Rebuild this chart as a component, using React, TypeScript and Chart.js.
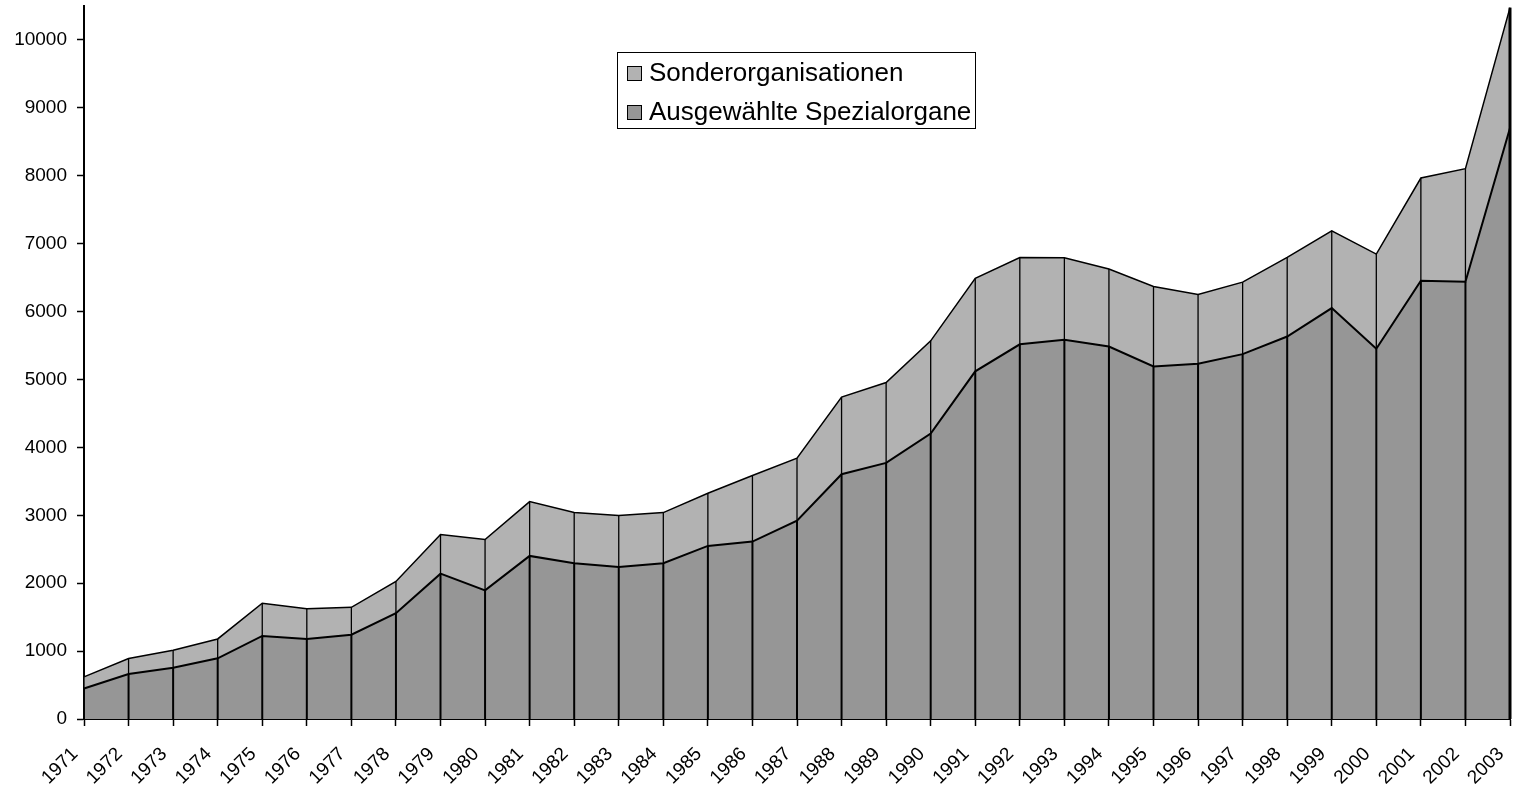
import React, { useEffect, useRef } from 'react';
import { Chart, registerables } from 'chart.js';

Chart.register(...registerables);

const years = [
  '1971', '1972', '1973', '1974', '1975', '1976', '1977', '1978', '1979', '1980',
  '1981', '1982', '1983', '1984', '1985', '1986', '1987', '1988', '1989', '1990',
  '1991', '1992', '1993', '1994', '1995', '1996', '1997', '1998', '1999', '2000',
  '2001', '2002', '2003',
];

// Ausgewählte Spezialorgane (lower, dark series)
const spezialorgane = [
  450, 663, 756, 894, 1223, 1179, 1242, 1557, 2140, 1895,
  2402, 2294, 2240, 2294, 2549, 2613, 2922, 3605, 3772, 4205,
  5120, 5518, 5584, 5486, 5191, 5231, 5373, 5633, 6051, 5452,
  6454, 6439, 8703,
];

// Sonderorganisationen (upper, light series, stacked on top)
const sonderorganisationen = [
  170, 227, 256, 285, 482, 446, 403, 469, 576, 748,
  800, 746, 756, 746, 776, 972, 919, 1135, 1183, 1364,
  1368, 1277, 1208, 1140, 1179, 1021, 1061, 1164, 1139, 1395,
  1513, 1665, 1773,
];

const yTickValues = [0, 1000, 2000, 3000, 4000, 5000, 6000, 7000, 8000, 9000, 10000];
const yMax = 10500;

const legendLabels = ['Sonderorganisationen', 'Ausgewählte Spezialorgane'];

const LIGHT = '#b2b2b2';
const DARK = '#969696';
const FONT = '"Liberation Sans", Arial, sans-serif';

const dropLinesPlugin = {
  id: 'dropLines',
  afterDatasetsDraw(chart: any) {
    const ctx = chart.ctx;
    const lower = chart.getDatasetMeta(0).data;
    const upper = chart.getDatasetMeta(1).data;
    const base = chart.scales.y.getPixelForValue(0);
    ctx.save();
    ctx.strokeStyle = '#000';
    lower.forEach((p: any, i: number) => {
      const q = upper[i];
      ctx.lineWidth = i === lower.length - 1 ? 3 : 2;
      ctx.beginPath();
      ctx.moveTo(p.x, base);
      ctx.lineTo(p.x, p.y);
      ctx.stroke();
      ctx.lineWidth = i === lower.length - 1 ? 3 : 1.3;
      ctx.beginPath();
      ctx.moveTo(q.x, p.y);
      ctx.lineTo(q.x, q.y);
      ctx.stroke();
    });
    ctx.restore();
  },
};

const boxLegendPlugin = {
  id: 'boxLegend',
  afterDraw(chart: any) {
    const ctx = chart.ctx;
    const area = chart.chartArea;
    const left = area.left + 533;
    const top = area.top + 46;
    const w = 358;
    const h = 76;
    ctx.save();
    ctx.fillStyle = '#fff';
    ctx.fillRect(left, top, w, h);
    ctx.strokeStyle = '#000';
    ctx.lineWidth = 1;
    ctx.strokeRect(left + 0.5, top + 0.5, w, h);
    const colors = [LIGHT, DARK];
    const rowsY = [top + 21, top + 60];
    ctx.font = `26px ${FONT}`;
    ctx.textBaseline = 'middle';
    legendLabels.forEach((label, i) => {
      const cy = rowsY[i];
      ctx.fillStyle = colors[i];
      ctx.fillRect(left + 10, cy - 7, 14, 14);
      ctx.strokeStyle = '#000';
      ctx.lineWidth = 1;
      ctx.strokeRect(left + 10.5, cy - 6.5, 14, 14);
      ctx.fillStyle = '#000';
      ctx.fillText(label, left + 32, cy + 1);
    });
    ctx.restore();
  },
};

function zeroPadding(scale: any) {
  scale.paddingTop = 0;
  scale.paddingBottom = 0;
  scale.paddingLeft = 0;
  scale.paddingRight = 0;
}

export default function App() {
  const canvasRef = useRef<HTMLCanvasElement | null>(null);

  useEffect(() => {
    if (!canvasRef.current) return;
    const chart = new Chart(canvasRef.current, {
      type: 'line',
      data: {
        labels: years,
        datasets: [
          {
            label: legendLabels[1],
            data: spezialorgane,
            backgroundColor: DARK,
            borderColor: '#000',
            borderWidth: 2,
            fill: 'origin',
            pointRadius: 0,
            tension: 0,
          },
          {
            label: legendLabels[0],
            data: sonderorganisationen,
            backgroundColor: LIGHT,
            borderColor: '#000',
            borderWidth: 1.5,
            fill: '-1',
            pointRadius: 0,
            tension: 0,
          },
        ],
      },
      options: {
        animation: false,
        responsive: true,
        maintainAspectRatio: false,
        layout: { padding: { left: 0, right: 5, top: 6, bottom: 0 } },
        plugins: {
          legend: { display: false },
          tooltip: { enabled: false },
        },
        scales: {
          x: {
            type: 'category',
            offset: false,
            grid: {
              display: true,
              drawOnChartArea: false,
              drawTicks: true,
              tickLength: 7,
              tickWidth: 1.5,
              tickColor: '#000',
            },
            border: { display: true, color: '#000', width: 2 },
            ticks: {
              autoSkip: false,
              minRotation: 45,
              maxRotation: 45,
              color: '#000',
              padding: 17,
              labelOffset: -9,
              font: { family: FONT, size: 19 },
            },
            afterFit(scale: any) {
              scale.height = 69;
              zeroPadding(scale);
            },
          },
          y: {
            stacked: true,
            min: 0,
            max: yMax,
            grid: {
              display: true,
              drawOnChartArea: false,
              drawTicks: true,
              tickLength: 7,
              tickWidth: 1.5,
              tickColor: '#000',
            },
            border: { display: true, color: '#000', width: 2 },
            ticks: {
              stepSize: 1000,
              color: '#000',
              padding: 10,
              font: { family: FONT, size: 19 },
              callback: (v: any) => String(v),
            },
            afterBuildTicks(scale: any) {
              scale.ticks = yTickValues.map((v) => ({ value: v }));
            },
            afterFit(scale: any) {
              scale.width = 84;
              zeroPadding(scale);
            },
          },
        },
      },
      plugins: [dropLinesPlugin, boxLegendPlugin],
    });
    return () => chart.destroy();
  }, []);

  return (
    <div style={{ position: 'fixed', left: 0, top: 0, width: 1515, height: 788, background: '#fff' }}>
      <canvas ref={canvasRef} />
    </div>
  );
}
